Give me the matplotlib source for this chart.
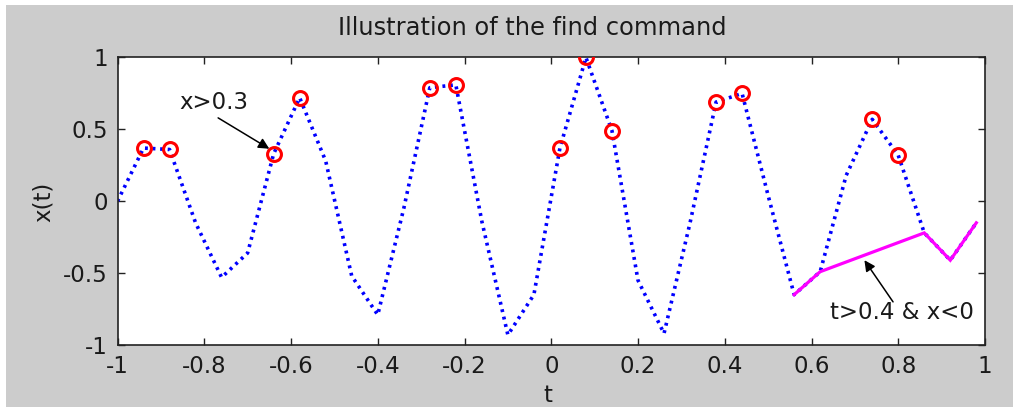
import matplotlib
matplotlib.use("Agg")
import matplotlib.pyplot as plt
from matplotlib.patches import Rectangle
import numpy as np

# ---- data ----
t = [-1.00, -0.94, -0.88, -0.82, -0.76, -0.70, -0.64, -0.58, -0.52, -0.46,
     -0.40, -0.34, -0.28, -0.22, -0.16, -0.10, -0.04, 0.02, 0.08, 0.14,
     0.20, 0.26, 0.32, 0.38, 0.44, 0.50, 0.56, 0.62, 0.68, 0.74,
     0.80, 0.86, 0.92, 0.98]
x = [0.00, 0.37, 0.36, -0.15, -0.53, -0.36, 0.33, 0.72, 0.28, -0.52,
     -0.79, -0.05, 0.79, 0.81, -0.14, -0.93, -0.65, 0.37, 1.00, 0.49,
     -0.55, -0.92, -0.15, 0.69, 0.75, 0.04, -0.65, -0.49, 0.18, 0.57,
     0.32, -0.22, -0.41, -0.15]
xticks = [-1, -0.8, -0.6, -0.4, -0.2, 0, 0.2, 0.4, 0.6, 0.8, 1]
xticklabels = ["-1", "-0.8", "-0.6", "-0.4", "-0.2", "0", "0.2", "0.4", "0.6", "0.8", "1"]
yticks = [-1, -0.5, 0, 0.5, 1]
yticklabels = ["-1", "-0.5", "0", "0.5", "1"]
title = "Illustration of the find command"
xlabel = "t"
ylabel = "x(t)"
label_big = "x>0.3"
label_sel = "t>0.4 & x<0"

t_arr = np.array(t)
x_arr = np.array(x)
idx_big = np.where(x_arr > 0.3)[0]
idx_sel = np.where((t_arr > 0.4) & (x_arr < 0))[0]

plt.rcParams['font.family'] = ['DejaVu Sans']
FS = 16.5
TXT = '#1a1a1a'

W, H = 1013, 407
fig = plt.figure(figsize=(W / 100, H / 100), dpi=100, facecolor='white')
# gray figure background (white margin on top and left as in reference)
fig.patches.append(Rectangle((6 / W, 0), 1 - 6 / W, 1 - 5 / H, transform=fig.transFigure,
                             facecolor='#cccccc', edgecolor='none', zorder=-10))

left, right, top, bottom = 117.5, 985, 57.5, 345
ax = fig.add_axes([left / W, 1 - bottom / H, (right - left) / W, (bottom - top) / H])
ax.set_facecolor('white')

ax.plot(t_arr, x_arr, color='#0000ff', linestyle=(0, (0.8, 1.3)), linewidth=2.6,
        dash_capstyle='butt', zorder=2)
ax.plot(t_arr[idx_big], x_arr[idx_big], linestyle='none', marker='o', markersize=10,
        markerfacecolor='none', markeredgecolor='#ff0000', markeredgewidth=2.2, zorder=3)
ax.plot(t_arr[idx_sel], x_arr[idx_sel], color='#ff00ff', linewidth=2.3, zorder=4,
        solid_joinstyle='miter')

ax.set_xlim(-1, 1)
ax.set_ylim(-1, 1)
ax.set_xticks(xticks)
ax.set_xticklabels(xticklabels)
ax.set_yticks(yticks)
ax.set_yticklabels(yticklabels)
ax.tick_params(direction='in', length=5, width=1, top=True, right=True,
               labelsize=FS, colors='#222222', labelcolor=TXT)
ax.tick_params(axis='x', pad=7)
ax.tick_params(axis='y', pad=7)
for s in ax.spines.values():
    s.set_linewidth(1.2)
    s.set_color('#222222')

# annotations
ax.annotate("", xy=(-0.650, 0.365), xytext=(-0.768, 0.58),
            arrowprops=dict(arrowstyle='-|>', color='black', lw=1.1, mutation_scale=16,
                            shrinkA=0, shrinkB=0))
ax.text(-0.858, 0.69, label_big, fontsize=FS, color=TXT, ha='left', va='center')
ax.annotate("", xy=(0.722, -0.41), xytext=(0.788, -0.70),
            arrowprops=dict(arrowstyle='-|>', color='black', lw=1.1, mutation_scale=16,
                            shrinkA=0, shrinkB=0))
ax.text(0.643, -0.775, label_sel, fontsize=FS, color=TXT, ha='left', va='center')

fig.text(532 / W, 1 - 28 / H, title, fontsize=17.4, color=TXT, ha='center', va='center')
fig.text(43 / W, 1 - 202 / H, ylabel, fontsize=FS, color=TXT, ha='center', va='center',
         rotation=90)
fig.text(548 / W, 1 - 395 / H, xlabel, fontsize=FS, color=TXT, ha='center', va='center')

fig.savefig("out.png", dpi=100, facecolor=fig.get_facecolor())
